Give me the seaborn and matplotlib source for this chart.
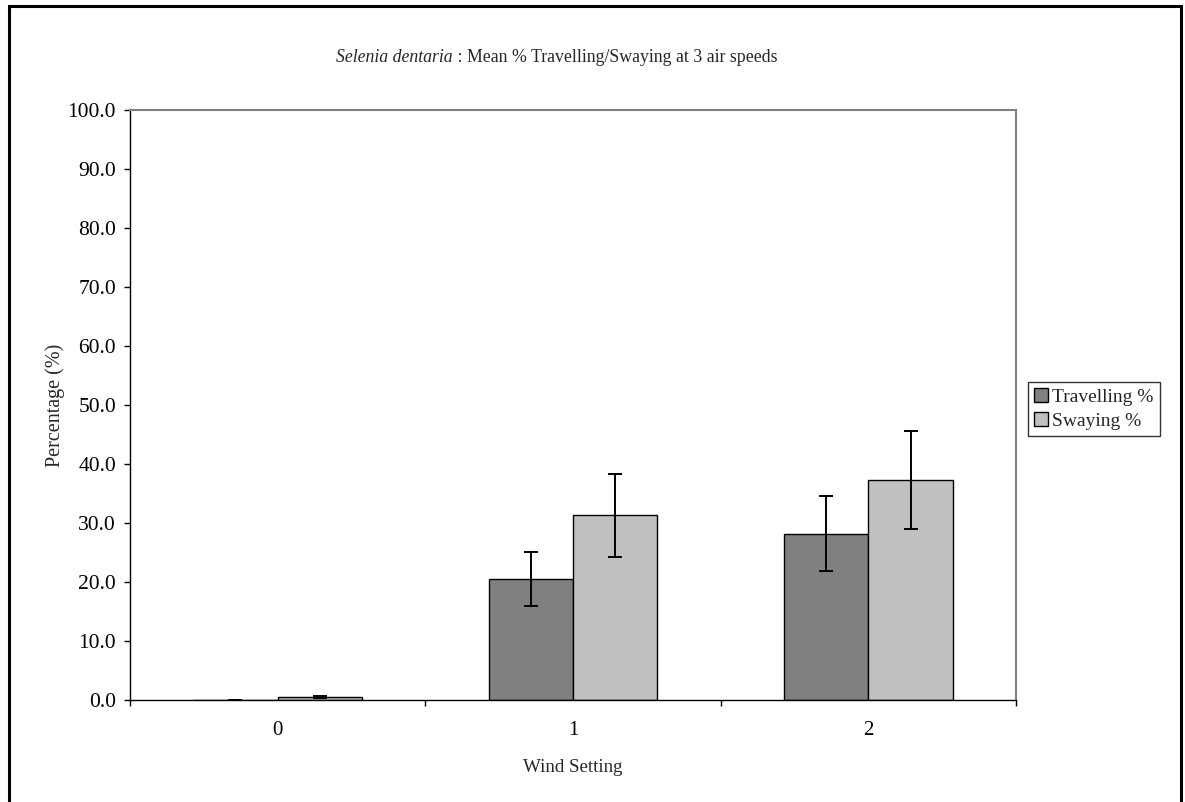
import matplotlib
matplotlib.use("Agg")
import matplotlib.pyplot as plt
import matplotlib.patches as mpatches
import seaborn as sns
import pandas as pd

# ---- data ----
wind_settings = ["0", "1", "2"]
series_names = ["Travelling %", "Swaying %"]
travelling_mean = [0.0, 20.5, 28.2]
travelling_err = [0.0, 4.6, 6.3]
swaying_mean = [0.5, 31.3, 37.3]
swaying_err = [0.15, 7.0, 8.3]
y_ticks = [0, 10, 20, 30, 40, 50, 60, 70, 80, 90, 100]

df = pd.DataFrame({
    "Wind Setting": wind_settings * 2,
    "Series": [series_names[0]] * 3 + [series_names[1]] * 3,
    "Value": travelling_mean + swaying_mean,
})
errs = {series_names[0]: travelling_err, series_names[1]: swaying_err}
means = {series_names[0]: travelling_mean, series_names[1]: swaying_mean}

sns.set_style("white")
plt.rcParams["font.family"] = ["Liberation Serif", "DejaVu Serif"]

W, H = 1185, 802
fig = plt.figure(figsize=(W / 100, H / 100), dpi=100)
ax = fig.add_axes([130 / W, (H - 700) / H, 886 / W, 590 / H])

palette = {series_names[0]: "#808080", series_names[1]: "#C0C0C0"}
sns.barplot(data=df, x="Wind Setting", y="Value", hue="Series",
            hue_order=series_names, order=wind_settings, palette=palette,
            width=0.572, edgecolor="black", linewidth=1.0, errorbar=None,
            legend=False, saturation=1, ax=ax)

for cont, name in zip(ax.containers, series_names):
    xs = [b.get_x() + b.get_width() / 2 for b in cont]
    ax.errorbar(xs, means[name], yerr=errs[name], fmt="none", ecolor="black",
                elinewidth=1.4, capsize=5, capthick=1.4, zorder=5)

ax.set_xlim(-0.5, 2.5)
ax.set_ylim(0, 100)
ax.set_yticks(y_ticks)
ax.set_yticklabels([f"{v:.1f}" for v in y_ticks])
ax.set_xticks(range(len(wind_settings)))
ax.set_xticklabels(wind_settings)
ax.set_xticks([-0.5, 0.5, 1.5, 2.5], minor=True)
ax.tick_params(axis="x", which="major", bottom=True, length=0, pad=15, labelsize=15)
ax.tick_params(axis="x", which="minor", bottom=True, length=4.5, width=1,
               color="black", direction="out")
ax.tick_params(axis="y", which="major", left=True, length=4.5, width=1, color="black",
               direction="out", pad=5.5, labelsize=15.5)
ax.tick_params(axis="both", labelcolor="black")

for s in ["left", "bottom"]:
    ax.spines[s].set_color("black")
    ax.spines[s].set_linewidth(1.0)
for s in ["top", "right"]:
    ax.spines[s].set_color("#808080")
    ax.spines[s].set_linewidth(1.5)

ax.set_xlabel("Wind Setting", fontsize=13.6, labelpad=14)
ax.set_ylabel("Percentage (%)", fontsize=14.5, labelpad=2)

# title with italic species name
fig.text(453 / W, 1 - 57 / H, "Selenia dentaria", style="italic", fontsize=12.8,
         ha="right", va="center")
fig.text(453 / W, 1 - 57 / H, " : Mean % Travelling/Swaying at 3 air speeds",
         fontsize=12.8, ha="left", va="center")

# legend
handles = [mpatches.Patch(facecolor=palette[n], edgecolor="black", linewidth=1.0, label=n)
           for n in series_names]
leg = fig.legend(handles=handles, loc="center left",
                 bbox_to_anchor=(1028 / W, 1 - 409 / H), frameon=True, fontsize=14,
                 handlelength=0.75, handleheight=0.75, handletextpad=0.2,
                 borderpad=0.3, labelspacing=0.3, fancybox=False, borderaxespad=0)
leg.get_frame().set_edgecolor("black")
leg.get_frame().set_linewidth(1.0)

# outer chart border
border = mpatches.Rectangle((8.5 / W, -0.05), (1181 - 8.5) / W, 1 - 5.5 / H + 0.05,
                            transform=fig.transFigure, fill=False, edgecolor="black",
                            linewidth=2.2, clip_on=False)
fig.patches.append(border)

fig.savefig("out.png", dpi=100)
